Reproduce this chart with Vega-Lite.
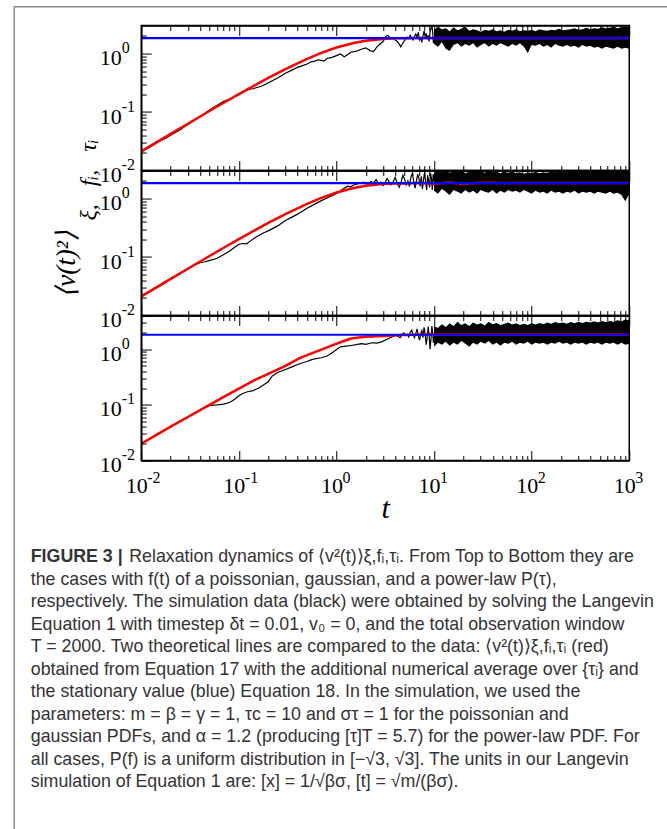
{
"$schema": "https://vega.github.io/schema/vega-lite/v6.json",
"padding": {"left": 13.25, "top": 5.75, "right": 0, "bottom": 0},
"background": "white",
"spacing": 0,
"bounds": "flush",
"datasets": {
"black": [
{"p":1,"t":0.01,"v":0.021},{"p":1,"t":0.012,"v":0.0245},{"p":1,"t":0.015,"v":0.031},{"p":1,"t":0.018,"v":0.036},{"p":1,"t":0.02,"v":0.04},{"p":1,"t":0.025,"v":0.05},{"p":1,"t":0.03,"v":0.061},{"p":1,"t":0.035,"v":0.072},{"p":1,"t":0.04,"v":0.084},{"p":1,"t":0.045,"v":0.095},{"p":1,"t":0.05,"v":0.108},{"p":1,"t":0.06,"v":0.13},{"p":1,"t":0.07,"v":0.152},{"p":1,"t":0.08,"v":0.165},{"p":1,"t":0.09,"v":0.18},{"p":1,"t":0.1,"v":0.2},{"p":1,"t":0.11,"v":0.22},{"p":1,"t":0.12,"v":0.235},{"p":1,"t":0.13,"v":0.245},{"p":1,"t":0.14,"v":0.25},{"p":1,"t":0.15,"v":0.26},{"p":1,"t":0.17,"v":0.275},{"p":1,"t":0.19,"v":0.3},{"p":1,"t":0.21,"v":0.33},{"p":1,"t":0.25,"v":0.38},{"p":1,"t":0.3,"v":0.46},{"p":1,"t":0.35,"v":0.52},{"p":1,"t":0.4,"v":0.58},{"p":1,"t":0.45,"v":0.62},{"p":1,"t":0.5,"v":0.66},{"p":1,"t":0.55,"v":0.72},{"p":1,"t":0.6,"v":0.74},{"p":1,"t":0.65,"v":0.78},{"p":1,"t":0.7,"v":0.76},{"p":1,"t":0.75,"v":0.74},{"p":1,"t":0.8,"v":0.82},{"p":1,"t":0.9,"v":0.86},{"p":1,"t":1.0,"v":0.92},{"p":1,"t":1.1,"v":0.98},{"p":1,"t":1.2,"v":0.88},{"p":1,"t":1.3,"v":0.95},{"p":1,"t":1.4,"v":1.05},{"p":1,"t":1.6,"v":1.1},{"p":1,"t":1.8,"v":1.18},{"p":1,"t":2.0,"v":1.25},{"p":1,"t":2.2,"v":1.12},{"p":1,"t":2.4,"v":1.08},{"p":1,"t":2.6,"v":1.3},{"p":1,"t":2.8,"v":1.45},
{"p":1,"t":3.0,"v":1.6},{"p":1,"t":3.2,"v":1.95},{"p":1,"t":3.35,"v":2.05},{"p":1,"t":3.5,"v":1.9},{"p":1,"t":3.7,"v":1.75},{"p":1,"t":3.85,"v":1.85},{"p":1,"t":4.0,"v":1.7},{"p":1,"t":4.2,"v":1.6},{"p":1,"t":4.4,"v":1.45},{"p":1,"t":4.55,"v":1.3},{"p":1,"t":4.7,"v":1.42},{"p":1,"t":4.9,"v":1.6},{"p":1,"t":5.1,"v":1.75},{"p":1,"t":5.3,"v":1.9},{"p":1,"t":5.5,"v":1.8},{"p":1,"t":5.7,"v":2.05},{"p":1,"t":5.9,"v":1.85},{"p":1,"t":6.1,"v":1.7},{"p":1,"t":6.3,"v":1.95},{"p":1,"t":6.5,"v":2.15},{"p":1,"t":6.7,"v":1.9},{"p":1,"t":6.9,"v":2.3},{"p":1,"t":7.1,"v":1.7},{"p":1,"t":7.3,"v":1.85},{"p":1,"t":7.5,"v":1.55},{"p":1,"t":7.7,"v":2.0},{"p":1,"t":7.9,"v":2.4},{"p":1,"t":8.1,"v":1.95},{"p":1,"t":8.3,"v":2.2},{"p":1,"t":8.5,"v":1.75},{"p":1,"t":8.7,"v":2.05},{"p":1,"t":8.9,"v":1.6},{"p":1,"t":9.1,"v":2.3},{"p":1,"t":9.3,"v":2.7},{"p":1,"t":9.5,"v":3.1},{"p":1,"t":9.7,"v":2.2},{"p":1,"t":9.85,"v":1.5},{"p":1,"t":10,"v":1.9},
{"p":2,"t":0.01,"v":0.021},{"p":2,"t":0.013,"v":0.027},{"p":2,"t":0.016,"v":0.033},{"p":2,"t":0.02,"v":0.042},{"p":2,"t":0.025,"v":0.052},{"p":2,"t":0.03,"v":0.063},{"p":2,"t":0.035,"v":0.073},{"p":2,"t":0.04,"v":0.08},{"p":2,"t":0.045,"v":0.083},{"p":2,"t":0.05,"v":0.087},{"p":2,"t":0.06,"v":0.095},{"p":2,"t":0.07,"v":0.11},{"p":2,"t":0.08,"v":0.125},{"p":2,"t":0.09,"v":0.145},{"p":2,"t":0.1,"v":0.165},{"p":2,"t":0.11,"v":0.17},{"p":2,"t":0.12,"v":0.168},{"p":2,"t":0.13,"v":0.185},{"p":2,"t":0.15,"v":0.22},{"p":2,"t":0.18,"v":0.26},{"p":2,"t":0.2,"v":0.28},{"p":2,"t":0.25,"v":0.34},{"p":2,"t":0.3,"v":0.42},{"p":2,"t":0.35,"v":0.48},{"p":2,"t":0.4,"v":0.54},{"p":2,"t":0.5,"v":0.68},{"p":2,"t":0.6,"v":0.8},{"p":2,"t":0.7,"v":0.92},{"p":2,"t":0.8,"v":1.02},{"p":2,"t":0.9,"v":1.12},{"p":2,"t":1.0,"v":1.22},{"p":2,"t":1.1,"v":1.35},{"p":2,"t":1.2,"v":1.5},{"p":2,"t":1.3,"v":1.62},{"p":2,"t":1.4,"v":1.58},{"p":2,"t":1.5,"v":1.7},{"p":2,"t":1.7,"v":1.8},{"p":2,"t":1.9,"v":1.9},
{"p":2,"t":2.1,"v":1.75},{"p":2,"t":2.25,"v":1.95},{"p":2,"t":2.4,"v":1.85},{"p":2,"t":2.55,"v":2.1},{"p":2,"t":2.7,"v":1.8},{"p":2,"t":2.85,"v":1.9},{"p":2,"t":3.0,"v":1.65},{"p":2,"t":3.15,"v":1.85},{"p":2,"t":3.3,"v":2.2},{"p":2,"t":3.45,"v":1.95},{"p":2,"t":3.6,"v":1.7},{"p":2,"t":3.8,"v":1.9},{"p":2,"t":4.0,"v":2.3},{"p":2,"t":4.2,"v":1.8},{"p":2,"t":4.4,"v":1.55},{"p":2,"t":4.6,"v":1.9},{"p":2,"t":4.8,"v":2.5},{"p":2,"t":5.0,"v":2.1},{"p":2,"t":5.2,"v":1.7},{"p":2,"t":5.4,"v":2.0},{"p":2,"t":5.6,"v":1.6},{"p":2,"t":5.8,"v":2.35},{"p":2,"t":6.0,"v":2.7},{"p":2,"t":6.2,"v":1.9},{"p":2,"t":6.4,"v":1.5},{"p":2,"t":6.6,"v":2.0},{"p":2,"t":6.8,"v":2.6},{"p":2,"t":7.0,"v":2.2},{"p":2,"t":7.2,"v":1.6},{"p":2,"t":7.4,"v":2.4},{"p":2,"t":7.6,"v":1.45},{"p":2,"t":7.8,"v":2.1},{"p":2,"t":8.0,"v":2.8},{"p":2,"t":8.2,"v":1.9},{"p":2,"t":8.4,"v":1.4},{"p":2,"t":8.6,"v":2.5},{"p":2,"t":8.8,"v":2.0},{"p":2,"t":9.0,"v":1.55},{"p":2,"t":9.2,"v":2.7},{"p":2,"t":9.4,"v":2.2},{"p":2,"t":9.6,"v":1.4},{"p":2,"t":9.8,"v":2.6},{"p":2,"t":10,"v":2.0},
{"p":3,"t":0.01,"v":0.02},{"p":3,"t":0.013,"v":0.026},{"p":3,"t":0.016,"v":0.032},{"p":3,"t":0.02,"v":0.04},{"p":3,"t":0.025,"v":0.05},{"p":3,"t":0.03,"v":0.06},{"p":3,"t":0.035,"v":0.07},{"p":3,"t":0.04,"v":0.08},{"p":3,"t":0.045,"v":0.09},{"p":3,"t":0.05,"v":0.097},{"p":3,"t":0.055,"v":0.099},{"p":3,"t":0.06,"v":0.1},{"p":3,"t":0.07,"v":0.103},{"p":3,"t":0.08,"v":0.11},{"p":3,"t":0.09,"v":0.125},{"p":3,"t":0.1,"v":0.145},{"p":3,"t":0.11,"v":0.16},{"p":3,"t":0.12,"v":0.17},{"p":3,"t":0.14,"v":0.18},{"p":3,"t":0.16,"v":0.2},{"p":3,"t":0.18,"v":0.23},{"p":3,"t":0.2,"v":0.26},{"p":3,"t":0.22,"v":0.33},{"p":3,"t":0.25,"v":0.38},{"p":3,"t":0.3,"v":0.43},{"p":3,"t":0.35,"v":0.48},{"p":3,"t":0.4,"v":0.53},{"p":3,"t":0.45,"v":0.57},{"p":3,"t":0.5,"v":0.6},{"p":3,"t":0.55,"v":0.64},{"p":3,"t":0.6,"v":0.67},{"p":3,"t":0.7,"v":0.7},{"p":3,"t":0.8,"v":0.75},{"p":3,"t":0.9,"v":0.85},{"p":3,"t":1.0,"v":0.98},{"p":3,"t":1.1,"v":1.1},{"p":3,"t":1.2,"v":1.12},{"p":3,"t":1.4,"v":1.16},{"p":3,"t":1.6,"v":1.2},{"p":3,"t":1.8,"v":1.25},{"p":3,"t":2.0,"v":1.22},{"p":3,"t":2.3,"v":1.3},{"p":3,"t":2.6,"v":1.28},{"p":3,"t":2.9,"v":1.35},
{"p":3,"t":3.3,"v":1.5},{"p":3,"t":3.5,"v":1.58},{"p":3,"t":3.7,"v":1.65},{"p":3,"t":3.9,"v":1.72},{"p":3,"t":4.1,"v":1.75},{"p":3,"t":4.3,"v":1.68},{"p":3,"t":4.5,"v":1.6},{"p":3,"t":4.7,"v":1.8},{"p":3,"t":4.9,"v":1.95},{"p":3,"t":5.1,"v":1.75},{"p":3,"t":5.3,"v":1.85},{"p":3,"t":5.5,"v":1.65},{"p":3,"t":5.7,"v":2.0},{"p":3,"t":5.9,"v":2.2},{"p":3,"t":6.1,"v":1.85},{"p":3,"t":6.3,"v":1.6},{"p":3,"t":6.5,"v":1.9},{"p":3,"t":6.7,"v":2.3},{"p":3,"t":6.9,"v":1.75},{"p":3,"t":7.1,"v":1.45},{"p":3,"t":7.3,"v":1.9},{"p":3,"t":7.5,"v":2.15},{"p":3,"t":7.7,"v":1.6},{"p":3,"t":7.9,"v":2.45},{"p":3,"t":8.1,"v":1.9},{"p":3,"t":8.3,"v":1.2},{"p":3,"t":8.5,"v":1.6},{"p":3,"t":8.7,"v":2.55},{"p":3,"t":8.9,"v":1.8},{"p":3,"t":9.1,"v":1.0},{"p":3,"t":9.3,"v":1.5},{"p":3,"t":9.5,"v":2.6},{"p":3,"t":9.7,"v":1.9},{"p":3,"t":9.85,"v":1.3},{"p":3,"t":10,"v":1.7}
],
"band": [
{"p":1,"t":10,"lo":1.45,"hi":2.5},{"p":1,"t":10.96,"lo":1.3,"hi":2.9},{"p":1,"t":12.02,"lo":1.55,"hi":2.6},{"p":1,"t":13.18,"lo":1.2,"hi":2.7},{"p":1,"t":14.45,"lo":1.1,"hi":2.4},{"p":1,"t":15.85,"lo":1.4,"hi":2.8},{"p":1,"t":17.38,"lo":1.5,"hi":2.5},{"p":1,"t":19.05,"lo":1.3,"hi":2.65},{"p":1,"t":20.89,"lo":1.45,"hi":2.9},{"p":1,"t":22.91,"lo":1.35,"hi":2.45},{"p":1,"t":25.12,"lo":1.5,"hi":2.6},{"p":1,"t":27.54,"lo":1.25,"hi":2.5},{"p":1,"t":30.2,"lo":1.4,"hi":2.35},{"p":1,"t":33.11,"lo":1.5,"hi":2.55},{"p":1,"t":36.31,"lo":1.3,"hi":2.45},{"p":1,"t":39.81,"lo":1.45,"hi":2.6},{"p":1,"t":43.65,"lo":1.35,"hi":2.4},{"p":1,"t":47.86,"lo":1.5,"hi":2.5},{"p":1,"t":52.48,"lo":1.4,"hi":2.35},{"p":1,"t":57.54,"lo":1.3,"hi":2.55},{"p":1,"t":63.1,"lo":1.45,"hi":2.45},{"p":1,"t":69.18,"lo":1.35,"hi":2.6},{"p":1,"t":75.86,"lo":1.5,"hi":2.4},{"p":1,"t":83.18,"lo":1.3,"hi":2.5},{"p":1,"t":91.2,"lo":1.02,"hi":2.45},{"p":1,"t":100,"lo":1.4,"hi":2.55},{"p":1,"t":109.6,"lo":1.35,"hi":2.4},{"p":1,"t":120.2,"lo":1.45,"hi":2.6},{"p":1,"t":131.8,"lo":1.3,"hi":2.5},{"p":1,"t":144.5,"lo":1.4,"hi":2.45},{"p":1,"t":158.5,"lo":1.25,"hi":2.55},{"p":1,"t":173.8,"lo":1.45,"hi":2.5},{"p":1,"t":190.5,"lo":1.35,"hi":2.65},{"p":1,"t":208.9,"lo":1.3,"hi":2.5},{"p":1,"t":229.1,"lo":1.4,"hi":2.55},{"p":1,"t":251.2,"lo":1.3,"hi":2.6},{"p":1,"t":275.4,"lo":1.35,"hi":2.7},{"p":1,"t":302,"lo":1.25,"hi":2.55},{"p":1,"t":331.1,"lo":1.4,"hi":2.6},{"p":1,"t":363.1,"lo":1.3,"hi":2.75},{"p":1,"t":398.1,"lo":1.35,"hi":2.6},{"p":1,"t":436.5,"lo":1.25,"hi":2.7},{"p":1,"t":478.6,"lo":1.3,"hi":2.65},{"p":1,"t":524.8,"lo":1.2,"hi":2.8},{"p":1,"t":575.4,"lo":1.3,"hi":2.7},{"p":1,"t":631,"lo":1.25,"hi":2.75},{"p":1,"t":691.8,"lo":1.2,"hi":2.85},{"p":1,"t":758.6,"lo":1.3,"hi":2.7},{"p":1,"t":831.8,"lo":1.2,"hi":2.8},{"p":1,"t":912,"lo":1.25,"hi":2.9},{"p":1,"t":1000,"lo":1.2,"hi":2.8},
{"p":2,"t":10,"lo":1.35,"hi":2.7},{"p":2,"t":10.96,"lo":1.2,"hi":3.0},{"p":2,"t":12.02,"lo":1.45,"hi":2.8},{"p":2,"t":13.18,"lo":1.3,"hi":3.1},{"p":2,"t":14.45,"lo":1.15,"hi":2.75},{"p":2,"t":15.85,"lo":1.4,"hi":3.0},{"p":2,"t":17.38,"lo":1.3,"hi":2.85},{"p":2,"t":19.05,"lo":1.2,"hi":3.1},{"p":2,"t":20.89,"lo":1.4,"hi":2.7},{"p":2,"t":22.91,"lo":1.25,"hi":2.9},{"p":2,"t":25.12,"lo":1.35,"hi":3.1},{"p":2,"t":27.54,"lo":1.2,"hi":2.8},{"p":2,"t":30.2,"lo":1.4,"hi":2.95},{"p":2,"t":33.11,"lo":1.3,"hi":2.75},{"p":2,"t":36.31,"lo":1.25,"hi":3.0},{"p":2,"t":39.81,"lo":1.4,"hi":2.8},{"p":2,"t":43.65,"lo":1.2,"hi":2.9},{"p":2,"t":47.86,"lo":1.35,"hi":2.7},{"p":2,"t":52.48,"lo":1.25,"hi":2.85},{"p":2,"t":57.54,"lo":1.4,"hi":2.75},{"p":2,"t":63.1,"lo":1.3,"hi":2.9},{"p":2,"t":69.18,"lo":1.35,"hi":2.7},{"p":2,"t":75.86,"lo":1.25,"hi":2.8},{"p":2,"t":83.18,"lo":1.4,"hi":2.65},{"p":2,"t":91.2,"lo":1.3,"hi":2.8},{"p":2,"t":100,"lo":1.2,"hi":2.7},{"p":2,"t":109.6,"lo":1.35,"hi":2.85},{"p":2,"t":120.2,"lo":1.25,"hi":2.7},{"p":2,"t":131.8,"lo":1.3,"hi":2.8},{"p":2,"t":144.5,"lo":1.2,"hi":2.75},{"p":2,"t":158.5,"lo":1.35,"hi":2.9},{"p":2,"t":173.8,"lo":1.25,"hi":2.8},{"p":2,"t":190.5,"lo":1.3,"hi":2.95},{"p":2,"t":208.9,"lo":1.2,"hi":2.8},{"p":2,"t":229.1,"lo":1.3,"hi":2.9},{"p":2,"t":251.2,"lo":1.25,"hi":3.0},{"p":2,"t":275.4,"lo":1.35,"hi":2.85},{"p":2,"t":302,"lo":1.2,"hi":3.0},{"p":2,"t":331.1,"lo":1.3,"hi":2.9},{"p":2,"t":363.1,"lo":1.25,"hi":3.05},{"p":2,"t":398.1,"lo":1.3,"hi":2.95},{"p":2,"t":436.5,"lo":1.2,"hi":3.1},{"p":2,"t":478.6,"lo":1.3,"hi":2.95},{"p":2,"t":524.8,"lo":1.25,"hi":3.1},{"p":2,"t":575.4,"lo":1.2,"hi":3.0},{"p":2,"t":631,"lo":1.3,"hi":3.1},{"p":2,"t":691.8,"lo":1.2,"hi":3.05},{"p":2,"t":758.6,"lo":1.25,"hi":3.1},{"p":2,"t":831.8,"lo":1.15,"hi":3.0},{"p":2,"t":912,"lo":0.9,"hi":3.1},{"p":2,"t":1000,"lo":1.2,"hi":3.2},
{"p":3,"t":10,"lo":1.1,"hi":2.6},{"p":3,"t":10.96,"lo":1.3,"hi":2.4},{"p":3,"t":12.02,"lo":1.2,"hi":2.8},{"p":3,"t":13.18,"lo":1.35,"hi":2.5},{"p":3,"t":14.45,"lo":1.15,"hi":2.9},{"p":3,"t":15.85,"lo":1.3,"hi":2.6},{"p":3,"t":17.38,"lo":1.2,"hi":3.1},{"p":3,"t":19.05,"lo":1.4,"hi":2.7},{"p":3,"t":20.89,"lo":1.25,"hi":2.9},{"p":3,"t":22.91,"lo":1.1,"hi":2.6},{"p":3,"t":25.12,"lo":1.3,"hi":3.0},{"p":3,"t":27.54,"lo":1.2,"hi":2.75},{"p":3,"t":30.2,"lo":1.35,"hi":2.9},{"p":3,"t":33.11,"lo":1.25,"hi":2.65},{"p":3,"t":36.31,"lo":1.4,"hi":3.1},{"p":3,"t":39.81,"lo":1.2,"hi":2.8},{"p":3,"t":43.65,"lo":1.3,"hi":2.95},{"p":3,"t":47.86,"lo":1.15,"hi":2.7},{"p":3,"t":52.48,"lo":1.3,"hi":2.85},{"p":3,"t":57.54,"lo":1.25,"hi":3.0},{"p":3,"t":63.1,"lo":1.35,"hi":2.75},{"p":3,"t":69.18,"lo":1.2,"hi":2.9},{"p":3,"t":75.86,"lo":1.3,"hi":2.7},{"p":3,"t":83.18,"lo":1.25,"hi":2.85},{"p":3,"t":91.2,"lo":1.35,"hi":2.7},{"p":3,"t":100,"lo":1.2,"hi":2.9},{"p":3,"t":109.6,"lo":1.3,"hi":2.75},{"p":3,"t":120.2,"lo":1.25,"hi":2.95},{"p":3,"t":131.8,"lo":1.3,"hi":2.8},{"p":3,"t":144.5,"lo":1.2,"hi":3.0},{"p":3,"t":158.5,"lo":1.3,"hi":2.85},{"p":3,"t":173.8,"lo":1.25,"hi":3.05},{"p":3,"t":190.5,"lo":1.35,"hi":2.9},{"p":3,"t":208.9,"lo":1.25,"hi":3.0},{"p":3,"t":229.1,"lo":1.3,"hi":2.85},{"p":3,"t":251.2,"lo":1.2,"hi":3.05},{"p":3,"t":275.4,"lo":1.3,"hi":2.9},{"p":3,"t":302,"lo":1.25,"hi":3.1},{"p":3,"t":331.1,"lo":1.3,"hi":2.95},{"p":3,"t":363.1,"lo":1.2,"hi":3.1},{"p":3,"t":398.1,"lo":1.3,"hi":3.0},{"p":3,"t":436.5,"lo":1.25,"hi":3.15},{"p":3,"t":478.6,"lo":1.3,"hi":3.0},{"p":3,"t":524.8,"lo":1.2,"hi":3.2},{"p":3,"t":575.4,"lo":1.3,"hi":3.05},{"p":3,"t":631,"lo":1.25,"hi":3.2},{"p":3,"t":691.8,"lo":1.3,"hi":3.1},{"p":3,"t":758.6,"lo":1.2,"hi":3.3},{"p":3,"t":831.8,"lo":1.3,"hi":3.15},{"p":3,"t":912,"lo":1.2,"hi":3.4},{"p":3,"t":1000,"lo":1.25,"hi":3.3}
],
"red": [
{"p":1,"t":0.01,"v":0.0213},{"p":1,"t":0.015,"v":0.0318},{"p":1,"t":0.02,"v":0.0423},{"p":1,"t":0.03,"v":0.0631},{"p":1,"t":0.05,"v":0.1039},{"p":1,"t":0.07,"v":0.1438},{"p":1,"t":0.1,"v":0.202},{"p":1,"t":0.15,"v":0.2945},{"p":1,"t":0.2,"v":0.3817},{"p":1,"t":0.3,"v":0.5415},{"p":1,"t":0.5,"v":0.8103},{"p":1,"t":0.7,"v":1.023},{"p":1,"t":1,"v":1.262},{"p":1,"t":1.5,"v":1.513},{"p":1,"t":2,"v":1.654},{"p":1,"t":3,"v":1.775},{"p":1,"t":4,"v":1.813},{"p":1,"t":5,"v":1.825},{"p":1,"t":7,"v":1.83},{"p":1,"t":1000,"v":1.83},
{"p":2,"t":0.01,"v":0.0213},{"p":2,"t":0.015,"v":0.0318},{"p":2,"t":0.02,"v":0.0423},{"p":2,"t":0.03,"v":0.0631},{"p":2,"t":0.05,"v":0.1039},{"p":2,"t":0.07,"v":0.1438},{"p":2,"t":0.1,"v":0.202},{"p":2,"t":0.15,"v":0.2945},{"p":2,"t":0.2,"v":0.3817},{"p":2,"t":0.3,"v":0.5415},{"p":2,"t":0.5,"v":0.8103},{"p":2,"t":0.7,"v":1.023},{"p":2,"t":1,"v":1.262},{"p":2,"t":1.5,"v":1.513},{"p":2,"t":2,"v":1.654},{"p":2,"t":3,"v":1.775},{"p":2,"t":4,"v":1.813},{"p":2,"t":5,"v":1.8},{"p":2,"t":7,"v":1.86},{"p":2,"t":10,"v":1.78},{"p":2,"t":14,"v":1.87},{"p":2,"t":20,"v":1.79},{"p":2,"t":30,"v":1.85},{"p":2,"t":50,"v":1.83},{"p":2,"t":1000,"v":1.83},
{"p":3,"t":0.01,"v":0.02},{"p":3,"t":0.015,"v":0.0305},{"p":3,"t":0.02,"v":0.0405},{"p":3,"t":0.03,"v":0.0605},{"p":3,"t":0.05,"v":0.1},{"p":3,"t":0.07,"v":0.139},{"p":3,"t":0.1,"v":0.196},{"p":3,"t":0.15,"v":0.287},{"p":3,"t":0.2,"v":0.36},{"p":3,"t":0.3,"v":0.5},{"p":3,"t":0.415,"v":0.68},{"p":3,"t":0.5,"v":0.78},{"p":3,"t":0.757,"v":1.03},{"p":3,"t":1.0,"v":1.25},{"p":3,"t":1.38,"v":1.53},{"p":3,"t":1.6,"v":1.6},{"p":3,"t":2,"v":1.66},{"p":3,"t":3,"v":1.72},{"p":3,"t":4,"v":1.77},{"p":3,"t":5.6,"v":1.8},{"p":3,"t":8,"v":1.81},{"p":3,"t":1000,"v":1.81}
],
"blue": [
{"p":1,"t":0.01,"v":1.83},{"p":1,"t":1000,"v":1.83},
{"p":2,"t":0.01,"v":1.83},{"p":2,"t":1000,"v":1.83},
{"p":3,"t":0.01,"v":1.81},{"p":3,"t":1000,"v":1.81}
],
"caption": [
{"line":1,"text":"Relaxation dynamics of ⟨v²(t)⟩ξ,fᵢ,τᵢ. From Top to Bottom they are"},
{"line":2,"text":"the cases with f(t) of a poissonian, gaussian, and a power-law P(τ),"},
{"line":3,"text":"respectively. The simulation data (black) were obtained by solving the Langevin"},
{"line":4,"text":"Equation 1 with timestep δt = 0.01, v₀ = 0, and the total observation window"},
{"line":5,"text":"T = 2000. Two theoretical lines are compared to the data: ⟨v²(t)⟩ξ,fᵢ,τᵢ (red)"},
{"line":6,"text":"obtained from Equation 17 with the additional numerical average over {τᵢ} and"},
{"line":7,"text":"the stationary value (blue) Equation 18. In the simulation, we used the"},
{"line":8,"text":"parameters: m = β = γ = 1, τc = 10 and στ = 1 for the poissonian and"},
{"line":9,"text":"gaussian PDFs, and α = 1.2 (producing [τ]T = 5.7) for the power-law PDF. For"},
{"line":10,"text":"all cases, P(f) is a uniform distribution in [−√3, √3]. The units in our Langevin"},
{"line":11,"text":"simulation of Equation 1 are: [x] = 1/√βσ, [t] = √m/(βσ)."}
]
},
"hconcat": [
{
"width": 0.01, "height": 830,
"view": {"stroke": "#8a8a8a", "strokeWidth": 1.5},
"data": {"values": []},
"mark": {"type": "point", "opacity": 0},
"encoding": {}
},
{
"spacing": 17.8,
"bounds": "flush",
"vconcat": [
{
"width": 660, "height": 0.01,
"view": {"stroke": "#8a8a8a", "strokeWidth": 1.5},
"data": {"values": []},
"mark": {"type": "point", "opacity": 0},
"encoding": {}
},
{
"spacing": 0,
"bounds": "flush",
"hconcat": [
{
"width": 126, "height": 1,
"view": {"stroke": null},
"data": {"values": []},
"mark": {"type": "point", "opacity": 0},
"encoding": {}
},
{
"spacing": 0,
"bounds": "flush",
"vconcat": [
{
"width": 488, "height": 145,
"layer": [
{"data": {"name": "band"}, "transform": [{"filter": "datum.p == 1"}],
 "mark": {"type": "area", "color": "black", "clip": true},
 "encoding": {
  "x": {"field": "t", "type": "quantitative", "scale": {"type": "log", "domain": [0.01, 1000]},
   "axis": {"orient": "bottom", "values": [0.01,0.02,0.03,0.04,0.05,0.06,0.07,0.08,0.09,0.1,0.2,0.3,0.4,0.5,0.6,0.7,0.8,0.9,1,2,3,4,5,6,7,8,9,10,20,30,40,50,60,70,80,90,100,200,300,400,500,600,700,800,900,1000],
    "tickSize": {"condition": {"test": "abs(log(datum.value)/LN10 - round(log(datum.value)/LN10)) < 0.001", "value": -10}, "value": -5},
    "labels": false, "title": null, "grid": false, "domainColor": "black", "domainWidth": 1.5, "tickColor": "black", "tickWidth": 1, "zindex": 1}},
  "y": {"field": "lo", "type": "quantitative", "scale": {"type": "log", "domain": [0.01, 3]}, "title": "ξ,\u2002 fᵢ,\u2002 τᵢ",
   "axis": {"orient": "left", "values": [0.01,0.02,0.03,0.04,0.05,0.06,0.07,0.08,0.09,0.1,0.2,0.3,0.4,0.5,0.6,0.7,0.8,0.9,1,2],
    "tickSize": {"condition": {"test": "abs(log(datum.value)/LN10 - round(log(datum.value)/LN10)) < 0.001", "value": -10}, "value": -5},
    "labelExpr": "abs(log(datum.value)/LN10 - round(log(datum.value)/LN10)) < 0.001 ? '10' : ''",
    "labelFont": "Liberation Serif", "labelFontSize": 22, "labelColor": "black", "labelPadding": 30, "labelOffset": 4, "labelOverlap": false, "labelFlush": false, "labelBound": false,
    "grid": false, "domainColor": "black", "domainWidth": 1.5, "tickColor": "black", "tickWidth": 1, "zindex": 1,
    "titleFont": "Liberation Serif", "titleFontSize": 24, "titleFontStyle": "italic", "titleFontWeight": "normal", "titleColor": "black", "titleAngle": 270, "titleX": -46, "titleY": 154, "titleAlign": "center", "titleBaseline": "alphabetic"}},
  "y2": {"field": "hi"}
 }},
{"data": {"name": "black"}, "transform": [{"filter": "datum.p == 1"}],
 "mark": {"type": "line", "color": "black", "strokeWidth": 1.2, "clip": true},
 "encoding": {
  "x": {"field": "t", "type": "quantitative", "scale": {"type": "log", "domain": [0.01, 1000]},
   "axis": {"orient": "top", "values": [0.01,0.02,0.03,0.04,0.05,0.06,0.07,0.08,0.09,0.1,0.2,0.3,0.4,0.5,0.6,0.7,0.8,0.9,1,2,3,4,5,6,7,8,9,10,20,30,40,50,60,70,80,90,100,200,300,400,500,600,700,800,900,1000],
    "tickSize": {"condition": {"test": "abs(log(datum.value)/LN10 - round(log(datum.value)/LN10)) < 0.001", "value": -10}, "value": -5},
    "labels": false, "title": null, "grid": false, "domainColor": "black", "domainWidth": 1.5, "tickColor": "black", "tickWidth": 1, "zindex": 1}},
  "y": {"field": "v", "type": "quantitative", "scale": {"type": "log", "domain": [0.01, 3]}, "axis": null}
 }},
{"data": {"name": "red"}, "transform": [{"filter": "datum.p == 1"}],
 "mark": {"type": "line", "color": "#ff0000", "strokeWidth": 2.5, "clip": true},
 "encoding": {
  "x": {"field": "t", "type": "quantitative", "scale": {"type": "log", "domain": [0.01, 1000]}, "axis": null},
  "y": {"field": "v", "type": "quantitative", "scale": {"type": "log", "domain": [0.01, 3]},
   "axis": {"orient": "left", "values": [0.01, 0.1, 1], "tickSize": -10, "tickOpacity": 0, "domain": false, "grid": false, "title": null,
    "labelExpr": "datum.value < 0.05 ? '-2' : datum.value < 0.5 ? '-1' : '0'", "labelAlign": "left",
    "labelFont": "Liberation Serif", "labelFontSize": 16, "labelColor": "black", "labelPadding": 30, "labelOffset": -6, "labelOverlap": false, "labelFlush": false, "labelBound": false, "zindex": 1}}
 }},
{"data": {"name": "blue"}, "transform": [{"filter": "datum.p == 1"}],
 "mark": {"type": "line", "color": "#0000ff", "strokeWidth": 2.2, "clip": true},
 "encoding": {
  "x": {"field": "t", "type": "quantitative", "scale": {"type": "log", "domain": [0.01, 1000]}, "axis": null},
  "y": {"field": "v", "type": "quantitative", "scale": {"type": "log", "domain": [0.01, 3]}, "axis": null}
 }}
],
"resolve": {"axis": {"x": "independent", "y": "independent"}}
},
{
"width": 488, "height": 145,
"layer": [
{"data": {"name": "band"}, "transform": [{"filter": "datum.p == 2"}],
 "mark": {"type": "area", "color": "black", "clip": true},
 "encoding": {
  "x": {"field": "t", "type": "quantitative", "scale": {"type": "log", "domain": [0.01, 1000]},
   "axis": {"orient": "bottom", "values": [0.01,0.02,0.03,0.04,0.05,0.06,0.07,0.08,0.09,0.1,0.2,0.3,0.4,0.5,0.6,0.7,0.8,0.9,1,2,3,4,5,6,7,8,9,10,20,30,40,50,60,70,80,90,100,200,300,400,500,600,700,800,900,1000],
    "tickSize": {"condition": {"test": "abs(log(datum.value)/LN10 - round(log(datum.value)/LN10)) < 0.001", "value": -10}, "value": -5},
    "labels": false, "title": null, "grid": false, "domainColor": "black", "domainWidth": 1.5, "tickColor": "black", "tickWidth": 1, "zindex": 1}},
  "y": {"field": "lo", "type": "quantitative", "scale": {"type": "log", "domain": [0.01, 3]}, "title": "⟨v(t)²⟩",
   "axis": {"orient": "left", "values": [0.01,0.02,0.03,0.04,0.05,0.06,0.07,0.08,0.09,0.1,0.2,0.3,0.4,0.5,0.6,0.7,0.8,0.9,1,2],
    "tickSize": {"condition": {"test": "abs(log(datum.value)/LN10 - round(log(datum.value)/LN10)) < 0.001", "value": -10}, "value": -5},
    "labelExpr": "abs(log(datum.value)/LN10 - round(log(datum.value)/LN10)) < 0.001 ? '10' : ''",
    "labelFont": "Liberation Serif", "labelFontSize": 22, "labelColor": "black", "labelPadding": 30, "labelOffset": 4, "labelOverlap": false, "labelFlush": false, "labelBound": false,
    "grid": false, "domainColor": "black", "domainWidth": 1.5, "tickColor": "black", "tickWidth": 1, "zindex": 1,
    "titleFont": "Liberation Serif", "titleFontSize": 27, "titleFontStyle": "italic", "titleFontWeight": "normal", "titleColor": "black", "titleAngle": 270, "titleX": -67, "titleY": 93, "titleAlign": "center", "titleBaseline": "alphabetic"}},
  "y2": {"field": "hi"}
 }},
{"data": {"name": "black"}, "transform": [{"filter": "datum.p == 2"}],
 "mark": {"type": "line", "color": "black", "strokeWidth": 1.2, "clip": true},
 "encoding": {
  "x": {"field": "t", "type": "quantitative", "scale": {"type": "log", "domain": [0.01, 1000]},
   "axis": {"orient": "top", "values": [0.01,0.02,0.03,0.04,0.05,0.06,0.07,0.08,0.09,0.1,0.2,0.3,0.4,0.5,0.6,0.7,0.8,0.9,1,2,3,4,5,6,7,8,9,10,20,30,40,50,60,70,80,90,100,200,300,400,500,600,700,800,900,1000],
    "tickSize": {"condition": {"test": "abs(log(datum.value)/LN10 - round(log(datum.value)/LN10)) < 0.001", "value": -10}, "value": -5},
    "labels": false, "title": null, "grid": false, "domainColor": "black", "domainWidth": 1.5, "tickColor": "black", "tickWidth": 1, "zindex": 1}},
  "y": {"field": "v", "type": "quantitative", "scale": {"type": "log", "domain": [0.01, 3]}, "axis": null}
 }},
{"data": {"name": "red"}, "transform": [{"filter": "datum.p == 2"}],
 "mark": {"type": "line", "color": "#ff0000", "strokeWidth": 2.5, "clip": true},
 "encoding": {
  "x": {"field": "t", "type": "quantitative", "scale": {"type": "log", "domain": [0.01, 1000]}, "axis": null},
  "y": {"field": "v", "type": "quantitative", "scale": {"type": "log", "domain": [0.01, 3]},
   "axis": {"orient": "left", "values": [0.01, 0.1, 1], "tickSize": -10, "tickOpacity": 0, "domain": false, "grid": false, "title": null,
    "labelExpr": "datum.value < 0.05 ? '-2' : datum.value < 0.5 ? '-1' : '0'", "labelAlign": "left",
    "labelFont": "Liberation Serif", "labelFontSize": 16, "labelColor": "black", "labelPadding": 30, "labelOffset": -6, "labelOverlap": false, "labelFlush": false, "labelBound": false, "zindex": 1}}
 }},
{"data": {"name": "blue"}, "transform": [{"filter": "datum.p == 2"}],
 "mark": {"type": "line", "color": "#0000ff", "strokeWidth": 2.2, "clip": true},
 "encoding": {
  "x": {"field": "t", "type": "quantitative", "scale": {"type": "log", "domain": [0.01, 1000]}, "axis": null},
  "y": {"field": "v", "type": "quantitative", "scale": {"type": "log", "domain": [0.01, 3]}, "axis": null}
 }}
],
"resolve": {"axis": {"x": "independent", "y": "independent"}}
},
{
"width": 488, "height": 145,
"layer": [
{"data": {"name": "band"}, "transform": [{"filter": "datum.p == 3"}],
 "mark": {"type": "area", "color": "black", "clip": true},
 "encoding": {
  "x": {"field": "t", "type": "quantitative", "scale": {"type": "log", "domain": [0.01, 1000]}, "title": "t",
   "axis": {"orient": "bottom", "values": [0.01,0.02,0.03,0.04,0.05,0.06,0.07,0.08,0.09,0.1,0.2,0.3,0.4,0.5,0.6,0.7,0.8,0.9,1,2,3,4,5,6,7,8,9,10,20,30,40,50,60,70,80,90,100,200,300,400,500,600,700,800,900,1000],
    "tickSize": {"condition": {"test": "abs(log(datum.value)/LN10 - round(log(datum.value)/LN10)) < 0.001", "value": -10}, "value": -5},
    "labelExpr": "abs(log(datum.value)/LN10 - round(log(datum.value)/LN10)) < 0.001 ? '10' : ''",
    "labelFont": "Liberation Serif", "labelFontSize": 22, "labelColor": "black", "labelPadding": 41.7, "labelOffset": -5, "labelBaseline": "alphabetic", "labelOverlap": false, "labelFlush": false, "labelBound": false,
    "grid": false, "domainColor": "black", "domainWidth": 1.5, "tickColor": "black", "tickWidth": 1, "zindex": 1,
    "titleFont": "Liberation Serif", "titleFontSize": 30, "titleFontStyle": "italic", "titleFontWeight": "normal", "titleColor": "black", "titleY": 57, "titleX": 244, "titleAlign": "center", "titleBaseline": "alphabetic"}},
  "y": {"field": "lo", "type": "quantitative", "scale": {"type": "log", "domain": [0.01, 4]}, "title": null,
   "axis": {"orient": "left", "values": [0.01,0.02,0.03,0.04,0.05,0.06,0.07,0.08,0.09,0.1,0.2,0.3,0.4,0.5,0.6,0.7,0.8,0.9,1,2,3],
    "tickSize": {"condition": {"test": "abs(log(datum.value)/LN10 - round(log(datum.value)/LN10)) < 0.001", "value": -10}, "value": -5},
    "labelExpr": "abs(log(datum.value)/LN10 - round(log(datum.value)/LN10)) < 0.001 ? '10' : ''",
    "labelFont": "Liberation Serif", "labelFontSize": 22, "labelColor": "black", "labelPadding": 30, "labelOffset": 4, "labelOverlap": false, "labelFlush": false, "labelBound": false,
    "grid": false, "domainColor": "black", "domainWidth": 1.5, "tickColor": "black", "tickWidth": 1, "zindex": 1}},
  "y2": {"field": "hi"}
 }},
{"data": {"name": "black"}, "transform": [{"filter": "datum.p == 3"}],
 "mark": {"type": "line", "color": "black", "strokeWidth": 1.2, "clip": true},
 "encoding": {
  "x": {"field": "t", "type": "quantitative", "scale": {"type": "log", "domain": [0.01, 1000]},
   "axis": {"orient": "top", "values": [0.01,0.02,0.03,0.04,0.05,0.06,0.07,0.08,0.09,0.1,0.2,0.3,0.4,0.5,0.6,0.7,0.8,0.9,1,2,3,4,5,6,7,8,9,10,20,30,40,50,60,70,80,90,100,200,300,400,500,600,700,800,900,1000],
    "tickSize": {"condition": {"test": "abs(log(datum.value)/LN10 - round(log(datum.value)/LN10)) < 0.001", "value": -10}, "value": -5},
    "labels": false, "title": null, "grid": false, "domainColor": "black", "domainWidth": 1.5, "tickColor": "black", "tickWidth": 1, "zindex": 1}},
  "y": {"field": "v", "type": "quantitative", "scale": {"type": "log", "domain": [0.01, 4]}, "axis": null}
 }},
{"data": {"name": "red"}, "transform": [{"filter": "datum.p == 3"}],
 "mark": {"type": "line", "color": "#ff0000", "strokeWidth": 2.5, "clip": true},
 "encoding": {
  "x": {"field": "t", "type": "quantitative", "scale": {"type": "log", "domain": [0.01, 1000]},
   "axis": {"orient": "bottom", "values": [0.01, 0.1, 1, 10, 100, 1000], "tickSize": -10, "tickOpacity": 0, "domain": false, "grid": false, "title": null,
    "labelExpr": "datum.value < 0.05 ? '-2' : datum.value < 0.5 ? '-1' : datum.value < 5 ? '0' : datum.value < 50 ? '1' : datum.value < 500 ? '2' : '3'", "labelAlign": "left", "labelBaseline": "alphabetic",
    "labelFont": "Liberation Serif", "labelFontSize": 16, "labelColor": "black", "labelPadding": 31.7, "labelOffset": 5.5, "labelOverlap": false, "labelFlush": false, "labelBound": false, "zindex": 1}},
  "y": {"field": "v", "type": "quantitative", "scale": {"type": "log", "domain": [0.01, 4]},
   "axis": {"orient": "left", "values": [0.01, 0.1, 1], "tickSize": -10, "tickOpacity": 0, "domain": false, "grid": false, "title": null,
    "labelExpr": "datum.value < 0.05 ? '-2' : datum.value < 0.5 ? '-1' : '0'", "labelAlign": "left",
    "labelFont": "Liberation Serif", "labelFontSize": 16, "labelColor": "black", "labelPadding": 30, "labelOffset": -6, "labelOverlap": false, "labelFlush": false, "labelBound": false, "zindex": 1}}
 }},
{"data": {"name": "blue"}, "transform": [{"filter": "datum.p == 3"}],
 "mark": {"type": "line", "color": "#0000ff", "strokeWidth": 2.2, "clip": true},
 "encoding": {
  "x": {"field": "t", "type": "quantitative", "scale": {"type": "log", "domain": [0.01, 1000]}, "axis": null},
  "y": {"field": "v", "type": "quantitative", "scale": {"type": "log", "domain": [0.01, 4]}, "axis": null}
 }}
],
"resolve": {"axis": {"x": "independent", "y": "independent"}}
},
{
"width": 488, "height": 370,
"view": {"stroke": null},
"data": {"name": "caption"},
"layer": [
{"transform": [{"filter": "datum.line > 1"}],
 "mark": {"type": "text", "align": "left", "baseline": "middle", "font": "Liberation Sans", "fontSize": 17.8, "color": "#333333", "dx": -110.5},
 "encoding": {"x": {"value": 0}, "y": {"field": "line", "type": "quantitative", "scale": {"domain": [-3.3, 13.15], "reverse": true}, "axis": null}, "text": {"field": "text"}}},
{"transform": [{"filter": "datum.line == 1"}],
 "mark": {"type": "text", "align": "left", "baseline": "middle", "font": "Liberation Sans", "fontSize": 17.8, "color": "#333333", "dx": -12},
 "encoding": {"x": {"value": 0}, "y": {"field": "line", "type": "quantitative", "scale": {"domain": [-3.3, 13.15], "reverse": true}, "axis": null}, "text": {"field": "text"}}},
{"transform": [{"filter": "datum.line == 1"}],
 "mark": {"type": "text", "align": "left", "baseline": "middle", "font": "Liberation Sans", "fontSize": 17.8, "fontWeight": "bold", "color": "#333333", "dx": -110.5},
 "encoding": {"x": {"value": 0}, "y": {"field": "line", "type": "quantitative", "scale": {"domain": [-3.3, 13.15], "reverse": true}, "axis": null}, "text": {"value": "FIGURE 3 |"}}}
]
}
]
}
]
}
]
}
],
"config": {"view": {"stroke": "black", "strokeWidth": 1.5}}
}
